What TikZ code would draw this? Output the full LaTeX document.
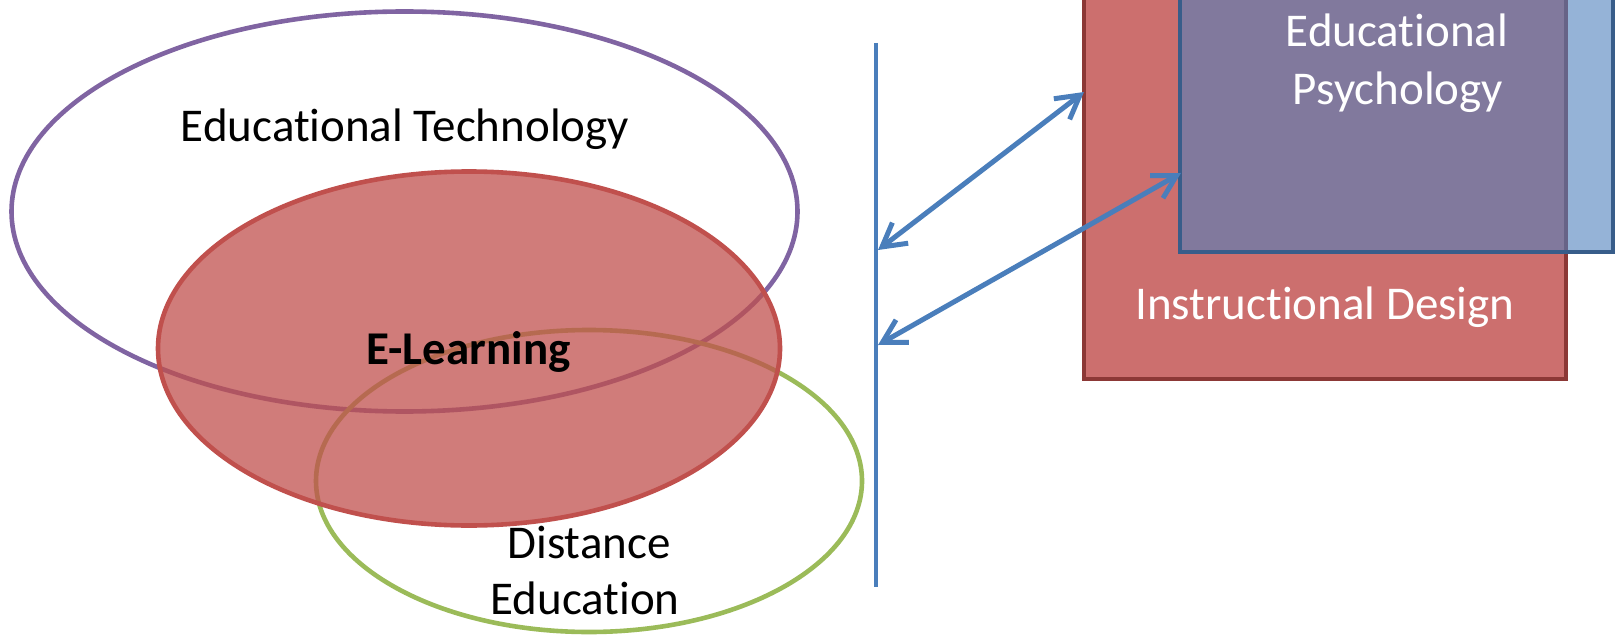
\documentclass[tikz,border=0pt]{standalone}
\usepackage{fontspec}
\setmainfont{Carlito}[RawFeature=-liga]
\usetikzlibrary{shapes.geometric,arrows.meta}
\definecolor{purp}{RGB}{128,100,162}
\definecolor{redd}{RGB}{192,80,77}
\definecolor{grn}{RGB}{155,187,89}
\definecolor{blu}{RGB}{74,126,187}
\definecolor{rectred}{RGB}{204,111,110}
\definecolor{rectredborder}{RGB}{140,56,54}
\definecolor{boxblue}{RGB}{79,129,189}
\definecolor{boxblueborder}{RGB}{56,93,138}
\begin{document}
\begin{tikzpicture}[x=0.5pt,y=-0.5pt,font=\fontsize{23.5}{28.5}\selectfont]
\tikzset{
  oval/.style={ellipse, inner sep=0pt, outer sep=0pt, line width=2.3pt},
  lbl/.style={inner sep=0pt, outer sep=0pt, anchor=base},
  wlbl/.style={lbl, text=white},
  panel/.style={rectangle, inner sep=0pt, outer sep=0pt, line width=2.3pt},
  link/.style={draw=blu, line width=2.5pt,
    {Straight Barb[length=11.5pt,width=13pt]}-{Straight Barb[length=11.5pt,width=13pt]}}
}
\useasboundingbox (0,0) rectangle (1620,636);
% ellipses
\node[oval, draw=purp, minimum width=393pt, minimum height=200pt] (et) at (404.5,211.5) {};
\node[oval, draw=grn, minimum width=273pt, minimum height=151pt] (de) at (589,481) {};
\node[oval, draw=redd, fill=redd, fill opacity=0.75, minimum width=311pt, minimum height=177pt] (el) at (469,348.5) {};
% ellipse labels
\node[lbl] (etlbl) at (405,142) {Educational Technology};
\node[lbl, font=\fontsize{23.5}{28.5}\selectfont\bfseries] (ellbl) at (468.5,364) {E-Learning};
\node[lbl] (delbla) at (589,558) {Distance};
\node[lbl] (delblb) at (585,614) {Education};
% vertical line
\coordinate (vtop) at (876,43);
\coordinate (vbot) at (876,587);
\draw[blu, line width=2.2pt] (vtop) -- (vbot);
% panels
\node[panel, draw=rectredborder, fill=rectred, minimum width=241pt, minimum height=204.5pt] (id) at (1325,174.5) {};
\node[panel, draw=boxblueborder, fill=boxblue, fill opacity=0.6, draw opacity=1, minimum width=216.5pt, minimum height=141pt] (ep) at (1396.5,111) {};
\node[wlbl] (idlbl) at (1325,319) {Instructional Design};
\node[wlbl] (eplbla) at (1397,47) {Educational};
\node[wlbl] (eplblb) at (1398,105) {Psychology};
% arrows
\coordinate (a1s) at (878,250);
\coordinate (a1e) at (1084,92);
\coordinate (a2s) at (878,345);
\coordinate (a2e) at (1181,173);
\draw[link] (a1s) -- (a1e);
\draw[link] (a2s) -- (a2e);
\end{tikzpicture}
\end{document}
